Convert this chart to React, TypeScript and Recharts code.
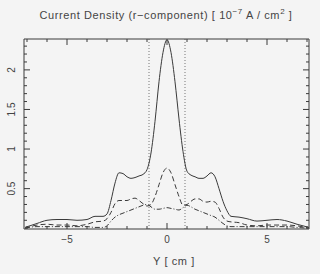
import { Line, LineChart, ReferenceLine, XAxis, YAxis } from "recharts"

const positions = [
  -7.1, -6.5, -6, -5.5, -5, -4.5, -4, -3.6, -3.2, -3.0, -2.8, -2.6, -2.4, -2.2, -2.0, -1.8, -1.6, -1.4, -1.2, -1.0,
  -0.8, -0.6, -0.4, -0.2, 0, 0.2, 0.4, 0.6, 0.8, 1.0, 1.2, 1.4, 1.6, 1.8, 2.0, 2.2, 2.4, 2.6, 2.8, 3.0, 3.2, 3.6,
  4.0, 4.5, 5, 5.5, 6, 6.5, 7.1,
]

const totalCurrent = [
  0.01, 0.06, 0.1, 0.11, 0.11, 0.1, 0.11, 0.15, 0.15, 0.18, 0.35, 0.57, 0.7, 0.69, 0.65, 0.63, 0.64, 0.66, 0.68, 0.74,
  0.95, 1.35, 1.85, 2.22, 2.38, 2.22, 1.85, 1.38, 0.97, 0.72, 0.67, 0.65, 0.63, 0.63, 0.66, 0.7, 0.65, 0.5, 0.34, 0.22,
  0.15, 0.14, 0.12, 0.09, 0.1, 0.11, 0.09, 0.05, 0.01,
]

const dashedCurrent = [
  0.0, 0.04, 0.05, 0.04, 0.04, 0.03, 0.05, 0.08, 0.09, 0.12, 0.2, 0.31, 0.35, 0.35, 0.35, 0.37, 0.38, 0.35, 0.31, 0.28,
  0.3, 0.4, 0.55, 0.7, 0.76, 0.7, 0.55, 0.4, 0.29, 0.3, 0.34, 0.37, 0.37, 0.34, 0.33, 0.34, 0.33, 0.25, 0.14, 0.09,
  0.08, 0.07, 0.04, 0.03, 0.04, 0.04, 0.04, 0.03, 0.0,
]

const dashDotCurrent = [
  0.0, 0.02, 0.02, 0.02, 0.02, 0.02, 0.02, 0.01, 0.01, 0.03, 0.09, 0.14, 0.17, 0.19, 0.21, 0.23, 0.25, 0.27, 0.29, 0.3,
  0.27, 0.24, 0.24, 0.25, 0.26, 0.25, 0.24, 0.23, 0.26, 0.29, 0.27, 0.24, 0.22, 0.2, 0.18, 0.16, 0.14, 0.1, 0.06, 0.03,
  0.02, 0.02, 0.02, 0.02, 0.02, 0.02, 0.02, 0.01, 0.0,
]

const xTicks = [-7, -6, -5, -4, -3, -2, -1, 0, 1, 2, 3, 4, 5, 6, 7]
const xLabels = [-5, 0, 5]
const yTicks = [
  0.1, 0.2, 0.3, 0.4, 0.5, 0.6, 0.7, 0.8, 0.9, 1, 1.1, 1.2, 1.3, 1.4, 1.5, 1.6, 1.7, 1.8, 1.9, 2, 2.1, 2.2, 2.3,
]
const yLabels = [0.5, 1, 1.5, 2]
const boundaryLines = [-0.9, 0.9]

const data = positions.map((y, i) => ({
  y,
  total: totalCurrent[i],
  dashed: dashedCurrent[i],
  dashDot: dashDotCurrent[i],
}))

const ink = "#3a3a3a"
const font = "'Liberation Sans', Arial, sans-serif"

const fmt = (v: number) => (v < 0 ? `\u2212${Math.abs(v)}` : `${v}`)

// ticks point inward, like the original plot; labels only on the left and bottom
function BottomTick(p: any) {
  const v = p.payload.value
  const major = xLabels.includes(v)
  return (
    <g>
      <line x1={p.x} x2={p.x} y1={p.y} y2={p.y - (major ? 6 : 3)} stroke={ink} />
      {major && (
        <text x={p.x} y={p.y + 14} textAnchor="middle" fontSize={10} fill="#444" fontFamily={font}>
          {fmt(v)}
        </text>
      )}
    </g>
  )
}

function TopTick(p: any) {
  const major = xLabels.includes(p.payload.value)
  return <line x1={p.x} x2={p.x} y1={p.y} y2={p.y + (major ? 6 : 3)} stroke={ink} />
}

function LeftTick(p: any) {
  const v = p.payload.value
  const major = yLabels.includes(v)
  const lx = p.x - 9
  return (
    <g>
      <line x1={p.x} x2={p.x + (major ? 6 : 3)} y1={p.y} y2={p.y} stroke={ink} />
      {major && (
        <text
          x={lx}
          y={p.y}
          textAnchor="middle"
          fontSize={10}
          fill="#444"
          fontFamily={font}
          transform={`rotate(-90, ${lx}, ${p.y})`}
        >
          {v}
        </text>
      )}
    </g>
  )
}

function RightTick(p: any) {
  const major = yLabels.includes(p.payload.value)
  return <line x1={p.x} x2={p.x - (major ? 6 : 3)} y1={p.y} y2={p.y} stroke={ink} />
}

export default function App() {
  return (
    <div style={{ position: "relative", width: 320, height: 274, background: "#f4f4f4", fontFamily: font }}>
      <style>{`body{margin:0}`}</style>
      <div
        style={{
          position: "absolute",
          top: 7,
          left: 0,
          width: 332,
          textAlign: "center",
          fontSize: 11,
          letterSpacing: 0.6,
          color: "#444",
          whiteSpace: "nowrap",
        }}
      >
        Current Density (r−component) [ 10<sup style={{ fontSize: 8 }}>−7</sup> A / cm<sup style={{ fontSize: 8 }}>2</sup> ]
      </div>
      <div
        style={{
          position: "absolute",
          top: 255,
          left: 0,
          width: 348,
          textAlign: "center",
          fontSize: 11,
          letterSpacing: 0.6,
          color: "#444",
        }}
      >
        Y [ cm ]
      </div>
      <LineChart width={320} height={274} data={data} margin={{ top: 38, right: 10, bottom: 44, left: 23 }}>
        <XAxis
          dataKey="y"
          type="number"
          domain={[-7.15, 7.1]}
          ticks={xTicks}
          height={1}
          tickSize={0}
          tickMargin={0}
          tick={BottomTick}
          tickLine={false}
          axisLine={{ stroke: ink }}
          allowDataOverflow
          interval={0}
        />
        <XAxis
          xAxisId="top"
          orientation="top"
          dataKey="y"
          type="number"
          domain={[-7.15, 7.1]}
          ticks={xTicks}
          height={1}
          tickSize={0}
          tickMargin={0}
          tick={TopTick}
          tickLine={false}
          axisLine={{ stroke: ink }}
          allowDataOverflow
          interval={0}
        />
        <YAxis
          type="number"
          domain={[-0.01, 2.39]}
          ticks={yTicks}
          width={1}
          tickSize={0}
          tickMargin={0}
          tick={LeftTick}
          tickLine={false}
          axisLine={{ stroke: ink }}
          allowDataOverflow
          interval={0}
        />
        <YAxis
          yAxisId="right"
          orientation="right"
          type="number"
          domain={[-0.01, 2.39]}
          ticks={yTicks}
          width={1}
          tickSize={0}
          tickMargin={0}
          tick={RightTick}
          tickLine={false}
          axisLine={{ stroke: ink }}
          allowDataOverflow
          interval={0}
        />
        {boundaryLines.map((x) => (
          <ReferenceLine key={x} x={x} stroke="#777" strokeDasharray="1 2" />
        ))}
        <Line dataKey="dashDot" type="monotone" stroke={ink} strokeWidth={1} strokeDasharray="5 2 1 2" dot={false} isAnimationActive={false} />
        <Line dataKey="dashed" type="monotone" stroke={ink} strokeWidth={1} strokeDasharray="5 3" dot={false} isAnimationActive={false} />
        <Line dataKey="total" type="monotone" stroke={ink} strokeWidth={1} dot={false} isAnimationActive={false} />
      </LineChart>
    </div>
  )
}
